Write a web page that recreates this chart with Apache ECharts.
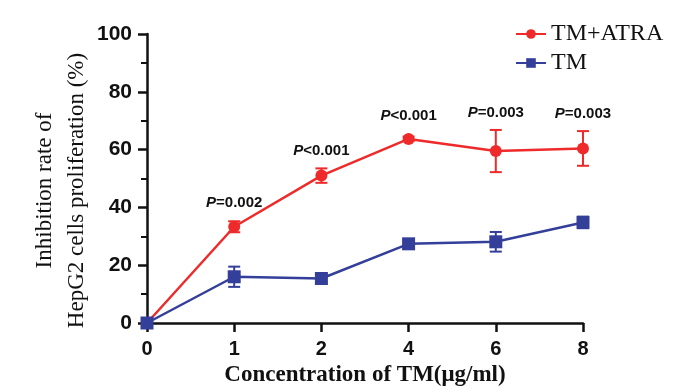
<!DOCTYPE html>
<html><head><meta charset="utf-8">
<script src="https://cdn.jsdelivr.net/npm/echarts@6/dist/echarts.min.js"></script>
<style>html,body{margin:0;padding:0;background:#fff}#c{width:700px;height:392px}</style>
</head><body><div id="c"></div>
<script>
const categories = ['0', '1', '2', '4', '6', '8'];
const tmAtra = [0, 33.3, 51.0, 63.7, 59.5, 60.4];
const tmAtraErr = [0, 1.9, 2.5, 0.8, 7.3, 6.0];
const tm = [0, 16.0, 15.4, 27.4, 28.1, 34.8];
const tmErr = [0, 3.5, 1.5, 1.5, 3.4, 2.0];
const pOps = ['', '=', '<', '<', '=', '='];
const pVals = ['', '0.002', '0.001', '0.001', '0.003', '0.003'];
const yTicks = [0, 20, 40, 60, 80, 100];

const RED = '#ee2a2a', BLUE = '#343f9a';

function errData(vals, errs) {
  return vals.map((v, i) => [i, v, errs[i]]);
}
function errRender(color, withLabel) {
  return function (params, api) {
    const i = api.value(0), v = api.value(1), e = api.value(2);
    const top = api.coord([i, v + e]);
    const bot = api.coord([i, v - e]);
    const ctr = api.coord([i, v]);
    const children = [];
    if (e > 0) {
      const hw = 6;
      const st = { stroke: color, lineWidth: 2 };
      children.push({ type: 'line', shape: { x1: top[0], y1: top[1], x2: bot[0], y2: bot[1] }, style: st });
      children.push({ type: 'line', shape: { x1: top[0] - hw, y1: top[1], x2: top[0] + hw, y2: top[1] }, style: st });
      children.push({ type: 'line', shape: { x1: bot[0] - hw, y1: bot[1], x2: bot[0] + hw, y2: bot[1] }, style: st });
    }
    if (withLabel && pVals[i]) {
      const yb = Math.min(top[1], ctr[1] - 6) - 10;
      children.push({
        type: 'text',
        style: {
          x: ctr[0], y: yb,
          text: '{i|P}{n|' + pOps[i] + pVals[i] + '}',
          align: 'center', verticalAlign: 'bottom',
          rich: {
            i: { fontFamily: 'Liberation Sans', fontWeight: 'bold', fontStyle: 'italic', fontSize: 15, fill: '#111' },
            n: { fontFamily: 'Liberation Sans', fontWeight: 'bold', fontSize: 15, fill: '#111' }
          }
        }
      });
    }
    return { type: 'group', children };
  };
}

const chart = echarts.init(document.getElementById('c'), null, { renderer: 'canvas' });
chart.setOption({
  animation: false,
  backgroundColor: '#fff',
  grid: { left: 147, right: 117, top: 34, bottom: 69, containLabel: false, outerBoundsMode: 'none' },
  legend: {
    orient: 'vertical', left: 510, top: 17, itemGap: 5,
    itemWidth: 30, itemHeight: 12,
    textStyle: { fontFamily: 'Liberation Serif', fontSize: 24, color: '#111' },
    data: ['TM+ATRA', 'TM']
  },
  xAxis: {
    type: 'category', data: categories, boundaryGap: false,
    name: 'Concentration of TM(μg/ml)', nameLocation: 'middle', nameGap: 40,
    nameTextStyle: { fontFamily: 'Liberation Serif', fontWeight: 'bold', fontSize: 23, color: '#111' },
    axisLine: { lineStyle: { color: '#111', width: 2.5 } },
    axisTick: { show: true, alignWithLabel: true, length: 9, lineStyle: { color: '#111', width: 2.5 } },
    axisLabel: { fontFamily: 'Liberation Sans', fontWeight: 'bold', fontSize: 20, color: '#111', margin: 16 }
  },
  yAxis: {
    type: 'value', min: 0, max: 100, interval: 20,
    name: 'Inhibition rate of\nHepG2 cells proliferation (%)', nameLocation: 'middle', nameRotate: 90, nameGap: 54,
    nameMoveOverlap: false,
    nameTextStyle: { fontFamily: 'Liberation Serif', fontSize: 23, color: '#111', lineHeight: 32, padding: [0, 24, 0, 0] },
    axisLine: { show: true, lineStyle: { color: '#111', width: 2.5 } },
    axisTick: { show: true, length: 9, lineStyle: { color: '#111', width: 2.5 } },
    minorTick: { show: true, splitNumber: 2, length: 6, lineStyle: { color: '#111', width: 2 } },
    splitLine: { show: false },
    axisLabel: {
      fontFamily: 'Liberation Sans', fontWeight: 'bold', fontSize: 21, color: '#111', margin: 15,
      formatter: v => (yTicks.indexOf(v) >= 0 ? String(v) : '')
    }
  },
  series: [
    {
      name: 'TM+ATRA', type: 'line', data: tmAtra, color: RED,
      symbol: 'circle', symbolSize: 12,
      lineStyle: { color: RED, width: 2.5 }, itemStyle: { color: RED }, z: 3
    },
    {
      name: 'TM', type: 'line', data: tm, color: BLUE,
      symbol: 'rect', symbolSize: 13,
      lineStyle: { color: BLUE, width: 2.5 }, itemStyle: { color: BLUE }, z: 4
    },
    { type: 'custom', data: errData(tmAtra, tmAtraErr), renderItem: errRender(RED, true), z: 5, silent: true },
    { type: 'custom', data: errData(tm, tmErr), renderItem: errRender(BLUE, false), z: 5, silent: true }
  ]
});
</script></body></html>
